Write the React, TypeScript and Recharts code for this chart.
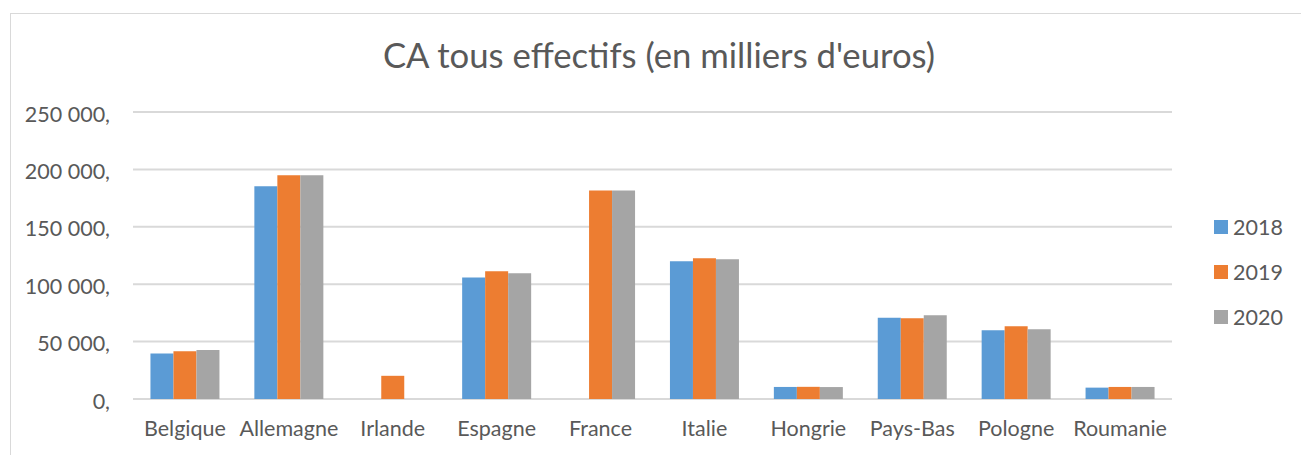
import React from "react";
import { BarChart, Bar, XAxis, YAxis, CartesianGrid } from "recharts";

const countries = ["Belgique", "Allemagne", "Irlande", "Espagne", "France", "Italie", "Hongrie", "Pays-Bas", "Pologne", "Roumanie"];
const values2018: (number | null)[] = [39700, 185400, null, 105800, null, 120000, 10500, 70850, 59800, 9900];
const values2019: (number | null)[] = [41700, 195000, 20200, 111250, 181700, 122600, 10600, 70250, 63300, 10500];
const values2020: (number | null)[] = [42600, 195000, null, 109500, 181700, 121700, 10400, 72900, 60650, 10500];
const yTicks = [0, 50000, 100000, 150000, 200000, 250000];
const title = "CA tous effectifs (en milliers d'euros)";

const series = [
  { key: "2018", values: values2018, color: "#5B9BD5" },
  { key: "2019", values: values2019, color: "#ED7D31" },
  { key: "2020", values: values2020, color: "#A5A5A5" },
];

const data = countries.map((c, i) => {
  const row: Record<string, string | number | null> = { name: c };
  series.forEach((s) => {
    row[s.key] = s.values[i];
  });
  return row;
});

const FONT = "Lato, 'Open Sans', sans-serif";
const TEXT = "#595959";

const fmt = (v: number) => {
  const s = String(v).replace(/\B(?=(\d{3})+(?!\d))/g, " ");
  return s + ",";
};

export default function App() {
  return (
    <div style={{ position: "absolute", left: 0, top: 0, width: 1301, height: 455, overflow: "hidden", background: "#fff", fontFamily: FONT }}>
      <div
        style={{
          position: "absolute",
          left: 10,
          top: 13,
          width: 1291,
          height: 442,
          boxSizing: "border-box",
          borderTop: "1.5px solid #D9D9D9",
          borderLeft: "1.5px solid #D9D9D9",
        }}
      />
      <div
        style={{
          position: "absolute",
          left: 0,
          top: 37.5,
          width: 1318,
          textAlign: "center",
          fontSize: 34.7,
          lineHeight: "34.7px",
          color: TEXT,
          whiteSpace: "nowrap",
        }}
      >
        {title}
      </div>
      <div style={{ position: "absolute", left: 0, top: 0 }}>
        <BarChart
          width={1301}
          height={455}
          data={data}
          margin={{ top: 112, right: 129, bottom: 0, left: 0 }}
          barCategoryGap="16.8%"
          barGap={0}
        >
          <CartesianGrid vertical={false} stroke="#D9D9D9" strokeWidth={2} />
          <XAxis
            dataKey="name"
            height={56}
            tickLine={false}
            axisLine={false}
            tickSize={0}
            tickMargin={22}
            interval={0}
            tick={{ fill: TEXT, fontSize: 21.5, fontFamily: FONT }}
          />
          <YAxis
            width={133}
            domain={[0, 250000]}
            ticks={yTicks}
            tickLine={false}
            axisLine={false}
            tickSize={0}
            tickMargin={23}
            tickFormatter={fmt}
            tick={{ fill: TEXT, fontSize: 21.5, fontFamily: FONT, dy: 2 }}
          />
          {series.map((s) => (
            <Bar key={s.key} dataKey={s.key} fill={s.color} isAnimationActive={false} />
          ))}
        </BarChart>
      </div>
      <div style={{ position: "absolute", left: 1214, top: 204.5 }}>
        {series.map((s) => (
          <div key={s.key} style={{ height: 45, display: "flex", alignItems: "center" }}>
            <div style={{ width: 14, height: 14, background: s.color, marginRight: 5 }} />
            <span style={{ fontSize: 21.5, color: TEXT, lineHeight: "22px" }}>{s.key}</span>
          </div>
        ))}
      </div>
    </div>
  );
}
